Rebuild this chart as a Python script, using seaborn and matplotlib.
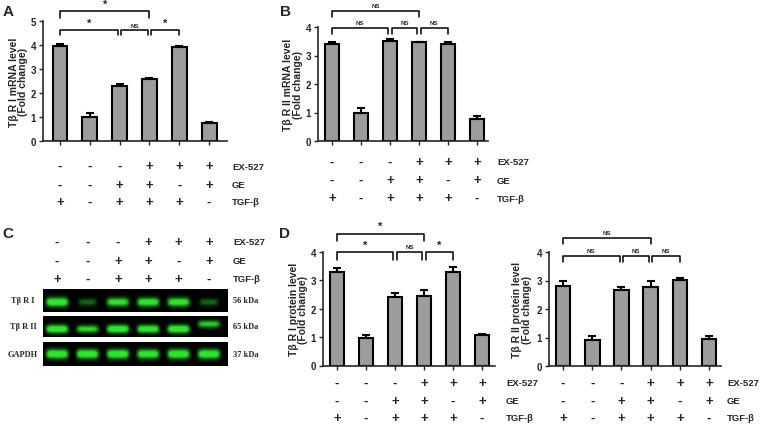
import numpy as np
import matplotlib
matplotlib.use("Agg")
import matplotlib.pyplot as plt
from matplotlib.transforms import blended_transform_factory
import seaborn as sns

# ---- data ----
groups = [0, 1, 2, 3, 4, 5]
ex527 = ['-', '-', '-', '+', '+', '+']
ge = ['-', '-', '+', '+', '-', '+']
tgfb = ['+', '-', '+', '+', '+', '-']
row_names = ['EX-527', 'GE', 'TGF-β']

tbr1_mrna = [3.95, 1.00, 2.30, 2.57, 3.90, 0.75]
tbr1_mrna_err = [0.10, 0.16, 0.07, 0.07, 0.07, 0.05]
tbr2_mrna = [3.42, 1.00, 3.52, 3.46, 3.42, 0.78]
tbr2_mrna_err = [0.05, 0.16, 0.06, 0.03, 0.04, 0.08]
tbr1_prot = [3.30, 0.97, 2.42, 2.45, 3.28, 1.06]
tbr1_prot_err = [0.13, 0.12, 0.13, 0.20, 0.18, 0.06]
tbr2_prot = [2.82, 0.92, 2.67, 2.77, 3.01, 0.93]
tbr2_prot_err = [0.15, 0.12, 0.10, 0.20, 0.08, 0.13]

# significance: (left group, right group, label)
sig_A = [(0, 2, '*'), (2, 3, 'NS'), (3, 4, '*'), (0, 3, '*')]
sig_B = [(0, 2, 'NS'), (2, 3, 'NS'), (3, 4, 'NS'), (0, 3, 'NS')]
sig_D1 = [(0, 2, '*'), (2, 3, 'NS'), (3, 4, '*'), (0, 3, '*')]
sig_D2 = [(0, 2, 'NS'), (2, 3, 'NS'), (3, 4, 'NS'), (0, 3, 'NS')]

# western blot band intensities (0-1) per lane
blot_names = ['Tβ R I', 'Tβ R II', 'GAPDH']
blot_kda = ['56 kDa', '65 kDa', '37 kDa']
band_tbr1 = [1.00, 0.35, 0.85, 0.90, 0.90, 0.35]
band_tbr2 = [1.00, 0.75, 1.00, 0.95, 1.00, 0.70]
band_gapdh = [1.00, 1.00, 1.00, 0.95, 1.00, 1.00]

sns.set_style("ticks")
plt.rcParams['font.family'] = ['Liberation Sans', 'DejaVu Sans']
plt.rcParams['font.weight'] = 'bold'

W, H = 760, 427
fig = plt.figure(figsize=(7.6, 4.27), dpi=100)


def rect(x0, x1, y_top, y_bot):
    return [x0 / W, 1 - y_bot / H, (x1 - x0) / W, (y_bot - y_top) / H]


def bracket(ax, x1, x2, y, h, label):
    ax.plot([x1, x1, x2, x2], [y - h, y, y, y - h], color='black', lw=1.1,
            clip_on=False)
    if label == '*':
        ax.text((x1 + x2) / 2, y + 0.08, '*', ha='center', va='bottom',
                fontsize=8, clip_on=False)
    else:
        ax.text((x1 + x2) / 2, y + 0.1, 'NS', ha='center', va='bottom',
                fontsize=4.5, clip_on=False)


def sign_rows(ax, ys, xlab):
    tr = blended_transform_factory(ax.transData, fig.transFigure)
    for row, yp in zip([ex527, ge, tgfb], ys):
        for g, s in zip(groups, row):
            ax.text(g, 1 - yp / H, s, transform=tr, ha='center', va='center',
                    fontsize=9.5, fontweight='bold', clip_on=False)
    for name, yp in zip(row_names, ys):
        fig.text(xlab / W, 1 - yp / H, name, ha='left', va='center',
                 fontsize=6.8, fontweight='bold')


def bar_panel(r, vals, errs, ymax, xlim, ylabel, lab_x, sigs, y_small, h_small,
              y_top, h_top, rows_y, xlab):
    ax = fig.add_axes(r)
    sns.barplot(x=groups, y=vals, ax=ax, color='#9c9c9c', saturation=1,
                edgecolor='black', linewidth=1.5, width=0.5, errorbar=None)
    ax.errorbar(groups, vals, yerr=[np.zeros(6), errs], fmt='none',
                ecolor='black', elinewidth=1.5, capsize=3, capthick=1.5)
    ax.set_xlim(*xlim)
    ax.set_ylim(0, ymax)
    ax.set_yticks(range(ymax + 1))
    ax.set_xticks(groups)
    ax.set_xticklabels([])
    ax.set_xlabel('')
    ax.tick_params(axis='both', length=3, width=1, labelsize=7, pad=2)
    for t in ax.get_yticklabels():
        t.set_fontweight('bold')
    for sp in ['left', 'bottom']:
        ax.spines[sp].set_linewidth(1.2)
    sns.despine(ax=ax)
    ax.set_ylabel(ylabel, fontsize=7.5, fontweight='bold', linespacing=0.95)
    ax.yaxis.set_label_coords(lab_x, 0.5)
    for x1, x2, lab in sigs:
        if (x1, x2) == (0, 3):
            bracket(ax, x1, x2, y_top, h_top, lab)
        else:
            a = x1 + (0.06 if x1 != 0 else 0)
            b = x2 - (0.06 if x2 != 4 else 0)
            bracket(ax, a, b, y_small, h_small, lab)
    sign_rows(ax, rows_y, xlab)
    return ax


bar_panel(rect(43, 227, 22, 142), tbr1_mrna, tbr1_mrna_err, 5, (-0.57, 5.6),
          'Tβ R I mRNA level\n(Fold change)', -0.08, sig_A,
          4.62, 0.21, 5.42, 0.3, [167, 186, 203], 232)
bar_panel(rect(318, 488, 28, 142), tbr2_mrna, tbr2_mrna_err, 4, (-0.48, 5.38),
          'Tβ R II mRNA level\n(Fold change)', -0.09, sig_B,
          3.96, 0.21, 4.56, 0.21, [163, 181, 199], 497)
bar_panel(rect(323, 495, 253, 366.5), tbr1_prot, tbr1_prot_err, 4, (-0.48, 5.45),
          'Tβ R I protein level\n(Fold change)', -0.085, sig_D1,
          4.01, 0.28, 4.65, 0.25, [384, 402, 419], 506)
bar_panel(rect(549, 721, 253, 367), tbr2_prot, tbr2_prot_err, 4, (-0.48, 5.41),
          'Tβ R II protein level\n(Fold change)', -0.1, sig_D2,
          3.86, 0.21, 4.49, 0.21, [384, 402, 419], 727)

# ---- western blot (panel C) ----
strips = [(290, 313, band_tbr1, 0.57), (317, 338, band_tbr2, 0.62),
          (343, 367, band_gapdh, 0.50)]
lx0, lx1 = -0.46, 5.62
X, Y = np.meshgrid(np.linspace(lx0, lx1, 400), np.linspace(0, 1, 60))
green = np.array([0.18, 0.90, 0.18])
for k, (yt, yb, bands, yc) in enumerate(strips):
    ax = fig.add_axes(rect(43, 228, yt, yb))
    img = np.zeros_like(X)
    for lane, inten in enumerate(bands):
        c = yc
        if k == 1 and lane == 5:
            c = 0.38
        half = 0.36 if inten > 0.5 else 0.3
        img += inten * np.exp(-((X - lane) / half) ** 6) * \
            np.exp(-((Y - c) / (0.13 + 0.06 * inten)) ** 2)
    img = np.clip(img * 1.3, 0, 1)
    rgb = img[..., None] * green[None, None, :]
    ax.imshow(rgb, extent=(lx0, lx1, 1, 0), aspect='auto',
              interpolation='bilinear')
    ax.set_xticks([])
    ax.set_yticks([])
    for sp in ax.spines.values():
        sp.set_visible(False)
    ymid = 1 - (yt + yb) / 2 / H
    fig.text(23 / W, ymid, blot_names[k], ha='center', va='center',
             fontsize=6, fontweight='bold', family='Liberation Serif')
    fig.text(233 / W, ymid, blot_kda[k], ha='left', va='center',
             fontsize=6, fontweight='bold', family='Liberation Serif')
    if k == 0:
        sign_rows(ax, [243, 262, 280], 233)

# panel letters
for lab, x, y in [('A', 3, 12), ('B', 280, 12), ('C', 2, 234), ('D', 279, 234)]:
    fig.text(x / W, 1 - y / H, lab, ha='left', va='center', fontsize=11,
             fontweight='bold')

fig.savefig('out.png', dpi=100)
